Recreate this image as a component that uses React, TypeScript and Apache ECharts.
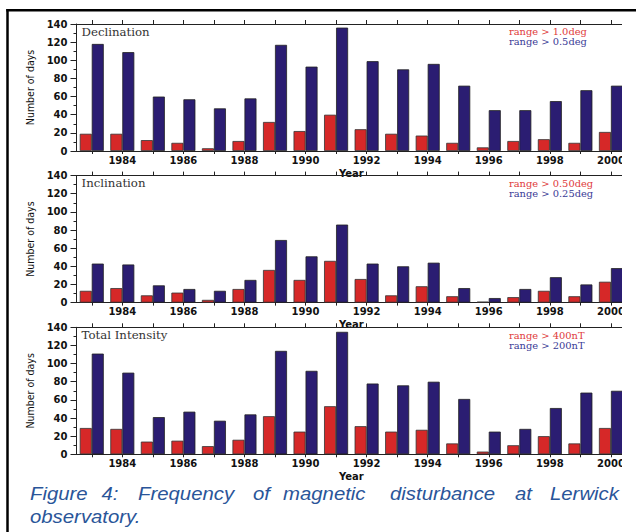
import React, { useEffect, useRef } from "react";
import * as echarts from "echarts";

const years = ["1983","1984","1985","1986","1987","1988","1989","1990","1991","1992","1993","1994","1995","1996","1997","1998","1999","2000"];

const declRed = [19,19,12,9,3,11,32,22,40,24,19,17,9,4,11,13,9,21];
const declBlue = [118,109,60,57,47,58,117,93,136,99,90,96,72,45,45,55,67,72];
const inclRed = [13,16,8,11,3,15,36,25,46,26,8,18,7,1,6,13,7,23];
const inclBlue = [43,42,19,15,13,25,69,51,86,43,40,44,16,5,15,28,20,38];
const totRed = [29,28,14,15,9,16,42,25,53,31,25,27,12,3,10,20,12,29];
const totBlue = [111,90,41,47,37,44,114,92,135,78,76,80,61,25,28,51,68,70];

const panelTitles = ["Declination", "Inclination", "Total Intensity"];
const redNames = ["range > 1.0deg", "range > 0.50deg", "range > 400nT"];
const blueNames = ["range > 0.5deg", "range > 0.25deg", "range > 200nT"];
const redSeries = [declRed, inclRed, totRed];
const blueSeries = [declBlue, inclBlue, totBlue];

const yTicks = { min: 0, max: 140, interval: 20 };

const captionWords = ["Figure", "4:", "Frequency", "of", "magnetic", "disturbance", "at", "Lerwick"];
const captionX = [30, 101.5, 138, 253, 283, 390, 515, 550];
const captionLine2 = "observatory.";

const RED = "#d62828";
const BLUE = "#2b1d72";
const AXIS = "#222";

export default function App() {
  const ref = useRef<HTMLDivElement>(null);
  useEffect(() => {
    if (!ref.current) return;
    const chart = echarts.init(ref.current, null, { renderer: "svg" });
    const tops = [24, 175.6, 327.3];
    const gridLeft = 76.5;
    const gridWidth = 549.7;
    const gridHeight = 127;

    const grids = tops.map((t) => ({ left: gridLeft, top: t, width: gridWidth, height: gridHeight }));

    const bottomAxes = tops.map((_, i) => ({
      type: "category",
      gridIndex: i,
      position: "bottom",
      data: years,
      name: "Year",
      nameLocation: "middle",
      nameGap: 17,
      nameTextStyle: { fontFamily: "DejaVu Sans", fontWeight: "bold", fontSize: 10, color: "#111" },
      axisLine: { show: true, lineStyle: { color: AXIS, width: 1 } },
      axisTick: { show: true, alignWithLabel: true, interval: 0, length: 3, inside: false, lineStyle: { color: AXIS } },
      axisLabel: {
        show: true,
        interval: (index: number) => index % 2 === 1,
        margin: 4,
        fontFamily: "DejaVu Sans",
        fontWeight: "bold",
        fontSize: 10,
        color: "#111",
      },
      splitLine: { show: false },
    }));

    const topAxes = tops.map((_, i) => ({
      type: "category",
      gridIndex: i,
      position: "top",
      data: years,
      axisLine: { show: true, lineStyle: { color: AXIS, width: 1 } },
      axisTick: { show: true, alignWithLabel: true, interval: 0, length: 4, inside: false, lineStyle: { color: AXIS } },
      axisLabel: { show: false },
      splitLine: { show: false },
    }));

    const yAxes = tops.map((_, i) => ({
      type: "value",
      gridIndex: i,
      min: yTicks.min,
      max: yTicks.max,
      interval: yTicks.interval,
      name: "Number of days",
      nameLocation: "middle",
      nameGap: 34,
      nameTextStyle: { fontFamily: "Liberation Sans Narrow, DejaVu Sans Condensed, sans-serif", fontSize: 10.5, color: "#111" },
      axisLine: { show: true, lineStyle: { color: AXIS, width: 1 } },
      axisTick: { show: true, length: 6, inside: false, lineStyle: { color: AXIS } },
      minorTick: { show: true, splitNumber: 2, length: 3, lineStyle: { color: AXIS } },
      axisLabel: { margin: 9, fontFamily: "DejaVu Sans", fontWeight: "bold", fontSize: 10, color: "#111" },
      splitLine: { show: false },
    }));

    const series: any[] = [];
    tops.forEach((_, i) => {
      series.push({
        type: "bar",
        name: redNames[i],
        xAxisIndex: i,
        yAxisIndex: i,
        data: redSeries[i],
        barWidth: 12,
        barGap: "0%",
        itemStyle: { color: RED, borderColor: "#333", borderWidth: 0.8 },
      });
      series.push({
        type: "bar",
        name: blueNames[i],
        xAxisIndex: i,
        yAxisIndex: i,
        data: blueSeries[i],
        barWidth: 12,
        barGap: "0%",
        itemStyle: { color: BLUE, borderColor: "#222", borderWidth: 0.8 },
      });
    });

    const graphic: any[] = [];
    tops.forEach((t, i) => {
      graphic.push({
        type: "text",
        x: 81.5,
        y: t + 7.7,
        scaleX: 1.07,
        z: 50,
        style: { text: panelTitles[i], font: "11px 'DejaVu Serif'", fill: "#333", verticalAlign: "middle", align: "left" },
      });
      graphic.push({
        type: "text",
        x: 509,
        y: t + 8,
        scaleX: 1.04,
        z: 50,
        style: { text: redNames[i], font: "9.5px 'DejaVu Serif'", fill: "#e03a3a", verticalAlign: "middle", align: "left" },
      });
      graphic.push({
        type: "text",
        x: 509,
        y: t + 18,
        scaleX: 1.04,
        z: 50,
        style: { text: blueNames[i], font: "9.5px 'DejaVu Serif'", fill: "#3a3a96", verticalAlign: "middle", align: "left" },
      });
    });
    captionWords.forEach((w, k) => {
      graphic.push({
        type: "text",
        x: captionX[k],
        y: 493.5,
        scaleX: 1.1,
        z: 50,
        style: { text: w, font: "italic 18.5px 'Liberation Sans'", fill: "#2a5599", verticalAlign: "middle", align: "left" },
      });
    });
    graphic.push({
      type: "text",
      x: 30,
      y: 516.5,
      scaleX: 1.1,
      z: 50,
      style: { text: captionLine2, font: "italic 18.5px 'Liberation Sans'", fill: "#2a5599", verticalAlign: "middle", align: "left" },
    });
    graphic.push({ type: "rect", z: 90, shape: { x: 622, y: 11.5, width: 20, height: 530 }, style: { fill: "#fff" } });
    graphic.push({ type: "line", z: 100, shape: { x1: 7.5, y1: 9, x2: 7.5, y2: 540 }, style: { stroke: "#000", lineWidth: 2.5 } });
    graphic.push({ type: "line", z: 100, shape: { x1: 6.3, y1: 10.2, x2: 640, y2: 10.2 }, style: { stroke: "#000", lineWidth: 2.5 } });

    chart.setOption({
      animation: false,
      backgroundColor: "#fff",
      grid: grids,
      xAxis: [...bottomAxes, ...topAxes],
      yAxis: yAxes,
      series,
      graphic,
    });
    return () => chart.dispose();
  }, []);
  return <div ref={ref} style={{ position: "absolute", left: 0, top: 0, width: 636, height: 532 }} />;
}
